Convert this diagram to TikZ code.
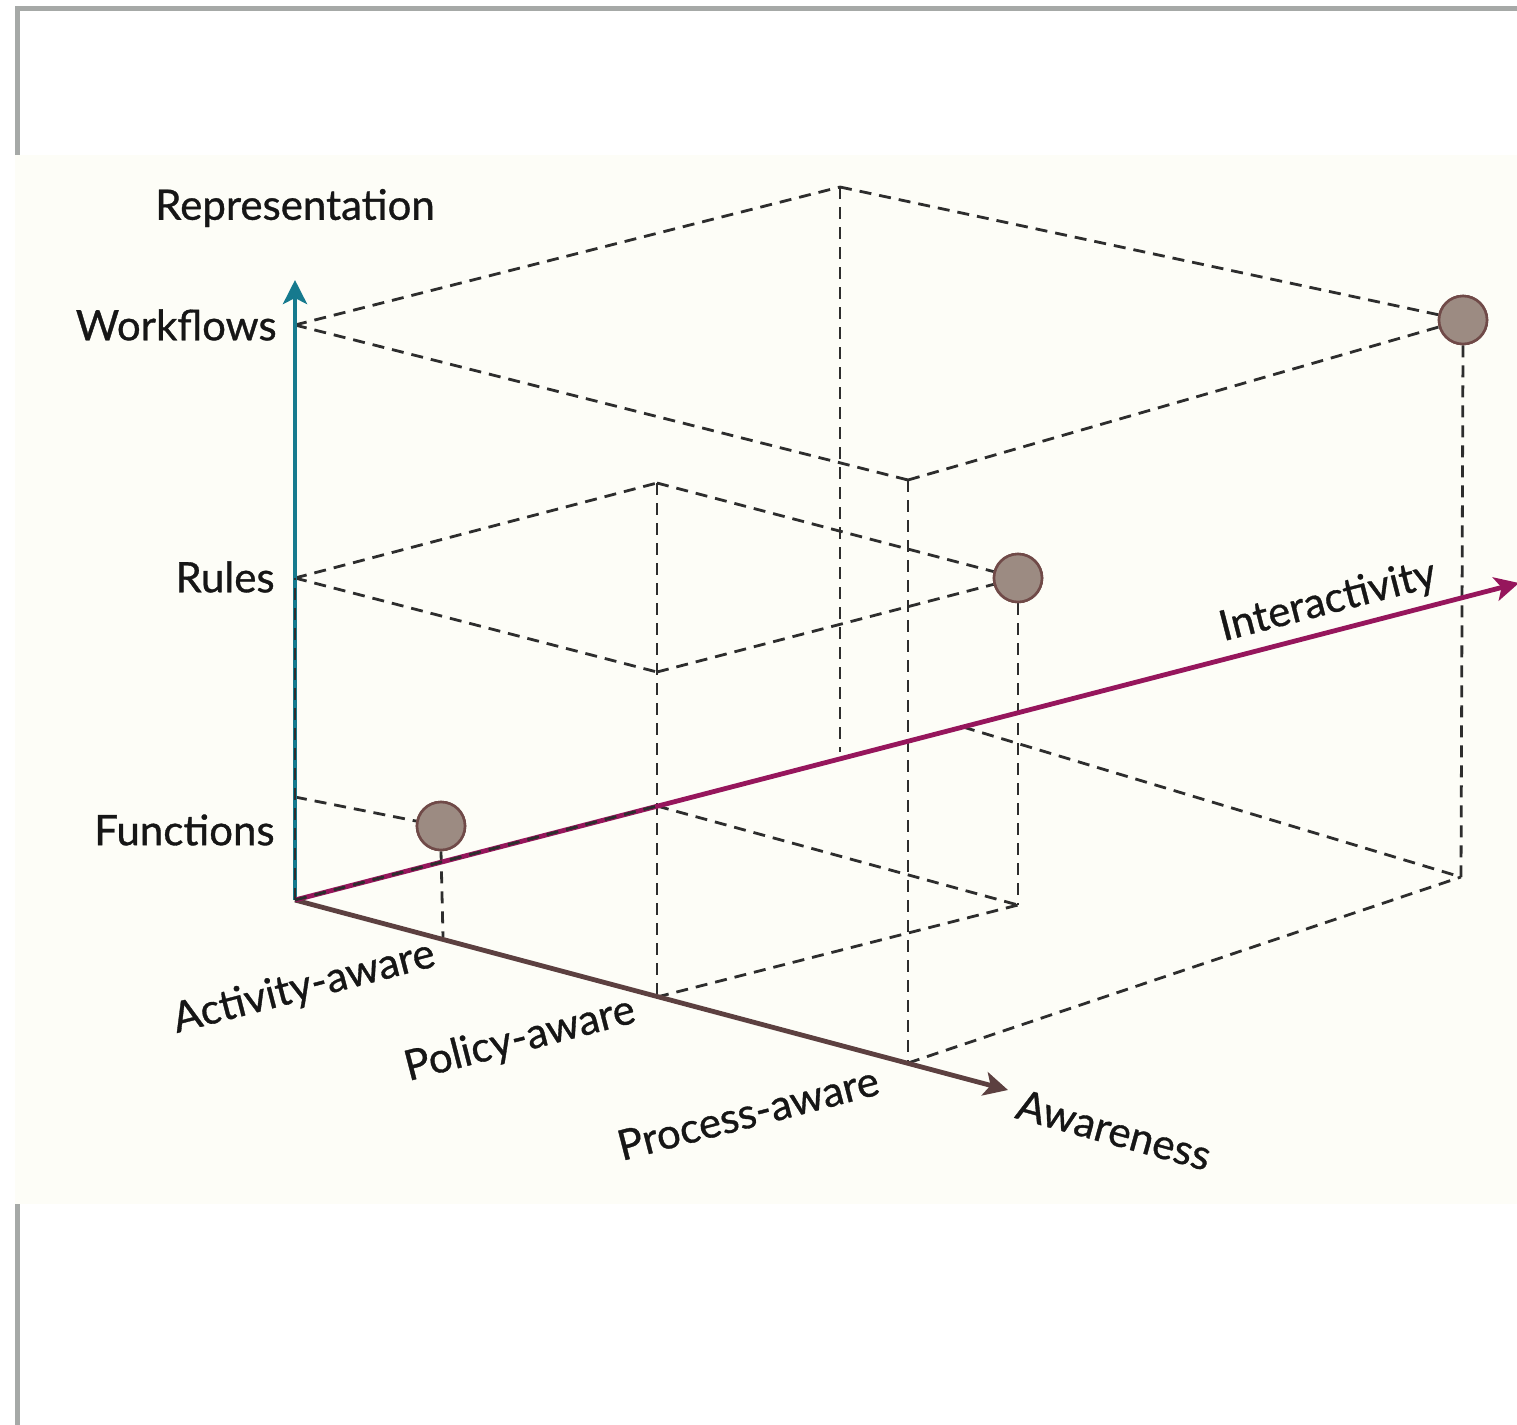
\documentclass[tikz,border=0pt]{standalone}
\usepackage{fontspec}
\setmainfont{Lato}
\newfontfamily\lblfont{Lato}[FakeBold=0.8]
\usetikzlibrary{arrows.meta}
\definecolor{framegray}{RGB}{166,169,167}
\definecolor{creambg}{RGB}{253,253,247}
\definecolor{axteal}{RGB}{22,122,142}
\definecolor{axpink}{RGB}{150,22,92}
\definecolor{axbrown}{RGB}{92,64,64}
\definecolor{dashcol}{RGB}{45,45,45}
\definecolor{ballfill}{RGB}{156,139,130}
\definecolor{ballline}{RGB}{112,74,72}
\definecolor{txtcol}{RGB}{22,22,22}
\tikzset{
  guide/.style={draw=dashcol, line width=1.4pt, dash pattern=on 6pt off 4pt},
  axisline/.style={line width=2.4pt, -{Stealth[length=12pt,width=12pt,inset=3pt]}},
  ball/.style={circle, draw=ballline, line width=1.3pt, fill=ballfill, minimum size=24pt, inner sep=0pt},
  lbl/.style={text=txtcol, font=\lblfont\fontsize{21}{25}\selectfont, inner sep=0pt},
}
\begin{document}
\begin{tikzpicture}[x=0.5pt,y=-0.5pt]
\useasboundingbox (0,0) rectangle (1517,1425);
\fill[white] (0,0) rectangle (1517,1425);
\fill[framegray] (15,6) rectangle (1517,11);
\fill[framegray] (15,6) rectangle (20,1425);
\fill[creambg] (15,155) rectangle (1517,1204);

% axis points
\coordinate (O) at (295,900);
\coordinate (upTip) at (295,280);
\coordinate (awTip) at (1008,1090);
\coordinate (inTip) at (1519,583);
\coordinate (hF) at (295,797);
\coordinate (hR) at (295,578);
\coordinate (hW) at (295,325);

% box 1
\node[ball] (ball1) at (441,826) {};
\coordinate (a1) at (443,937);
% box 2
\coordinate (r1) at (657,483);
\coordinate (r2) at (657,672);
\node[ball] (ball2) at (1018,578) {};
\coordinate (a2) at (657,997);
\coordinate (g2) at (1018,905);
\coordinate (i2) at (657,806);
% box 3
\coordinate (w1) at (840,187);
\coordinate (w2) at (908,480);
\node[ball] (ball3) at (1463,320) {};
\coordinate (i3) at (840,752);
\coordinate (a3) at (908,1063);
\coordinate (g3) at (1461,877);
\coordinate (i3b) at (963,727);

% guides
\draw[guide] (hF) -- (ball1);
\draw[guide] (ball1.south) -- (a1);

\draw[guide] (hR) -- (r1);
\draw[guide] (hR) -- (r2);
\draw[guide] (r1) -- (ball2);
\draw[guide] (r2) -- (ball2);
\draw[guide] (r1) -- (a2);
\draw[guide] (ball2.south) -- (g2);
\draw[guide] (a2) -- (g2);
\draw[guide] (i2) -- (g2);

\draw[guide] (hW) -- (w1);
\draw[guide] (hW) -- (w2);
\draw[guide] (w1) -- (ball3);
\draw[guide] (w2) -- (ball3);
\draw[guide] (w1) -- (i3);
\draw[guide] (w2) -- (a3);
\draw[guide] (ball3.south) -- (g3);
\draw[guide] (a3) -- (g3);
\draw[guide] (i3b) -- (g3);

% axes
\draw[axisline, axteal] (O) -- (upTip);
\draw[axisline, axbrown] (O) -- (awTip);
\draw[axisline, axpink] (O) -- (inTip);

% dashed overlays on axes
\draw[guide] (O) -- (hR);
\draw[guide] (O) -- (i2);

% balls on top
\node[ball] at (ball1) {};
\node[ball] at (ball2) {};
\node[ball] at (ball3) {};

% labels
\node[lbl] (tRep) at (295,208) {Representation};
\node[lbl, anchor=east] (tWork) at (277,325) {Workflows};
\node[lbl, anchor=east] (tRules) at (275,577) {Rules};
\node[lbl, anchor=east] (tFunc) at (275,830) {Functions};
\node[lbl, rotate=14.5] (tAct) at (304,988) {Activity-aware};
\node[lbl, rotate=14.5] (tPol) at (520,1040) {Policy-aware};
\node[lbl, rotate=14.5] (tProc) at (748,1113) {Process-aware};
\node[lbl, rotate=-15.5] (tAw) at (1114,1130) {Awareness};
\node[lbl, rotate=14.5] (tInt) at (1328,602) {Interactivity};
\end{tikzpicture}
\end{document}
